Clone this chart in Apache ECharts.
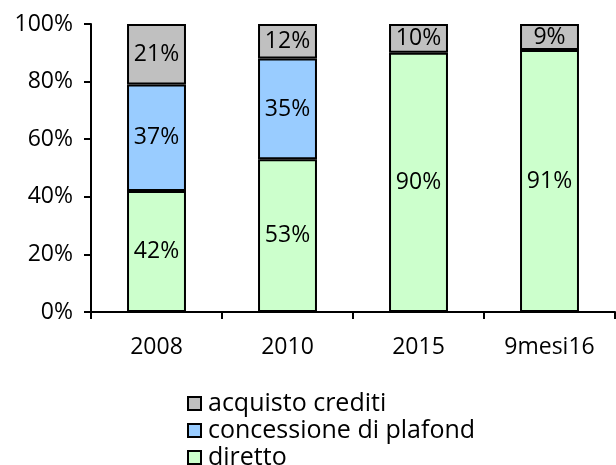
<!DOCTYPE html>
<html>
<head>
<meta charset="utf-8">
<script src="https://cdn.jsdelivr.net/npm/echarts@6/dist/echarts.min.js"></script>
<style>
  html, body { margin: 0; padding: 0; background: #fff; }
  #chart { width: 616px; height: 465px; }
</style>
</head>
<body>
<div id="chart"></div>
<script>
const categories = ['2008', '2010', '2015', '9mesi16'];
const diretto = [42, 53, 90, 91];
const concessione = [37, 35, 0, 0];
const acquisto = [21, 12, 10, 9];

const FONT = '"Open Sans", sans-serif';

const chart = echarts.init(document.getElementById('chart'));

// zero-height segments get no border so they don't thicken the boundary line
const barSeries = (name, data, color) => ({
  name,
  type: 'bar',
  stack: 'total',
  barWidth: '45%',
  data: data.map(v => (v ? v : { value: v, itemStyle: { borderWidth: 0 } })),
  itemStyle: { color, borderColor: '#000', borderWidth: 2 },
  label: {
    show: true,
    position: 'inside',
    color: '#000',
    fontFamily: FONT,
    fontSize: 23,
    formatter: p => (p.value ? p.value + '%' : '')
  },
  emphasis: { disabled: true }
});

chart.setOption({
  animation: false,
  grid: { left: 91, right: 1, top: 24, bottom: 153 },
  legend: {
    orient: 'vertical',
    left: 182,
    top: 385,
    height: 90,
    itemWidth: 13,
    itemHeight: 13,
    itemGap: 0,
    icon: 'rect',
    data: ['acquisto crediti', 'concessione di plafond', 'diretto'],
    textStyle: { fontFamily: FONT, fontSize: 25, color: '#000', lineHeight: 27, padding: [0, 0, 0, 2] },
    itemStyle: { borderColor: '#000', borderWidth: 2 },
    selectedMode: false
  },
  xAxis: {
    type: 'category',
    data: categories,
    axisLine: { lineStyle: { color: '#000', width: 2 } },
    axisTick: { show: true, length: 7, lineStyle: { color: '#000', width: 2 } },
    axisLabel: { color: '#000', fontFamily: FONT, fontSize: 23, margin: 24 }
  },
  yAxis: {
    type: 'value',
    min: 0,
    max: 100,
    interval: 20,
    axisLine: { show: true, lineStyle: { color: '#000', width: 2 } },
    axisTick: { show: true, length: 7, lineStyle: { color: '#000', width: 2 } },
    splitLine: { show: false },
    axisLabel: { color: '#000', fontFamily: FONT, fontSize: 23, margin: 18, formatter: '{value}%' }
  },
  series: [
    barSeries('diretto', diretto, '#CCFFCC'),
    barSeries('concessione di plafond', concessione, '#99CCFF'),
    barSeries('acquisto crediti', acquisto, '#C0C0C0')
  ]
});
</script>
</body>
</html>
